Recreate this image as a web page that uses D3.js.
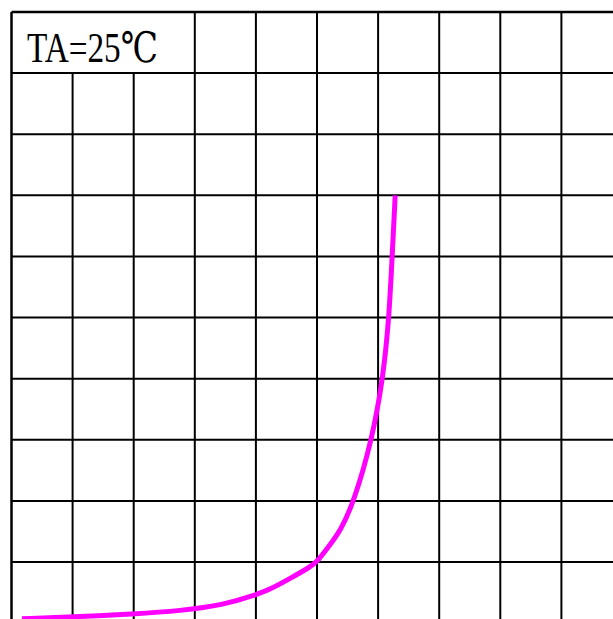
<!DOCTYPE html>
<html>
<head>
<meta charset="utf-8">
<script src="https://cdn.jsdelivr.net/npm/d3@7"></script>
<style>
  body { margin: 0; background: #fff; }
  svg { display: block; }
</style>
</head>
<body>
<script>
// curve (grid units, 1 unit = 1 cell)
var voltage = [0.17, 1.0, 2.0, 2.76, 3.49, 3.99, 4.23, 4.56, 4.89, 5.0, 5.21, 5.38, 5.61, 5.9, 6.08, 6.18, 6.23, 6.28];
var current = [0.07, 0.1, 0.15, 0.2, 0.3, 0.46, 0.55, 0.73, 0.92, 1.0, 1.28, 1.5, 2.0, 3.0, 4.0, 5.0, 6.0, 7.0];
var gridCols = d3.range(0, 11);
var gridRows = d3.range(0, 11);
var label = "TA=25℃";

var svgWidth = 613;
var svgHeight = 619;

var svg = d3.select("body")
  .append("svg")
  .attr("width", svgWidth)
  .attr("height", svgHeight);

var xScale = d3.scaleLinear().domain([0, 10]).range([11.5, 622.5]);
var yScale = d3.scaleLinear().domain([0, 10]).range([623.1, 12]);

var data = voltage.map(function(v, i) { return { v: v, i: current[i] }; });

// grid: vertical lines (the top-left label cell spans 3 columns)
svg.append("g").selectAll("line")
  .data(gridCols)
  .enter()
  .append("line")
  .attr("x1", d => xScale(d))
  .attr("x2", d => xScale(d))
  .attr("y1", d => (d == 1 || d == 2) ? yScale(9) : yScale(10))
  .attr("y2", yScale(0))
  .attr("stroke", "#000")
  .attr("stroke-width", d => d == 0 ? 2.5 : 2);

// horizontal lines
svg.append("g").selectAll("line")
  .data(gridRows)
  .enter()
  .append("line")
  .attr("x1", xScale(0))
  .attr("x2", xScale(10))
  .attr("y1", d => yScale(d))
  .attr("y2", d => yScale(d))
  .attr("stroke", "#000")
  .attr("stroke-width", d => d == 10 ? 2.5 : 2);

// label in the merged cell
svg.append("text")
  .attr("x", 27)
  .attr("y", 62)
  .attr("font-family", "'Liberation Serif', 'DejaVu Serif', serif")
  .attr("font-size", "42px")
  .attr("textLength", 131)
  .attr("lengthAdjust", "spacingAndGlyphs")
  .attr("fill", "#000")
  .text(label);

// characteristic curve (basis smooths the hand-read points)
var line = d3.line()
  .x(d => xScale(d.v))
  .y(d => yScale(d.i))
  .curve(d3.curveBasis);

svg.append("path")
  .datum(data)
  .attr("d", line)
  .attr("fill", "none")
  .attr("stroke", "#ff00ff")
  .attr("stroke-width", 5);
</script>
</body>
</html>
